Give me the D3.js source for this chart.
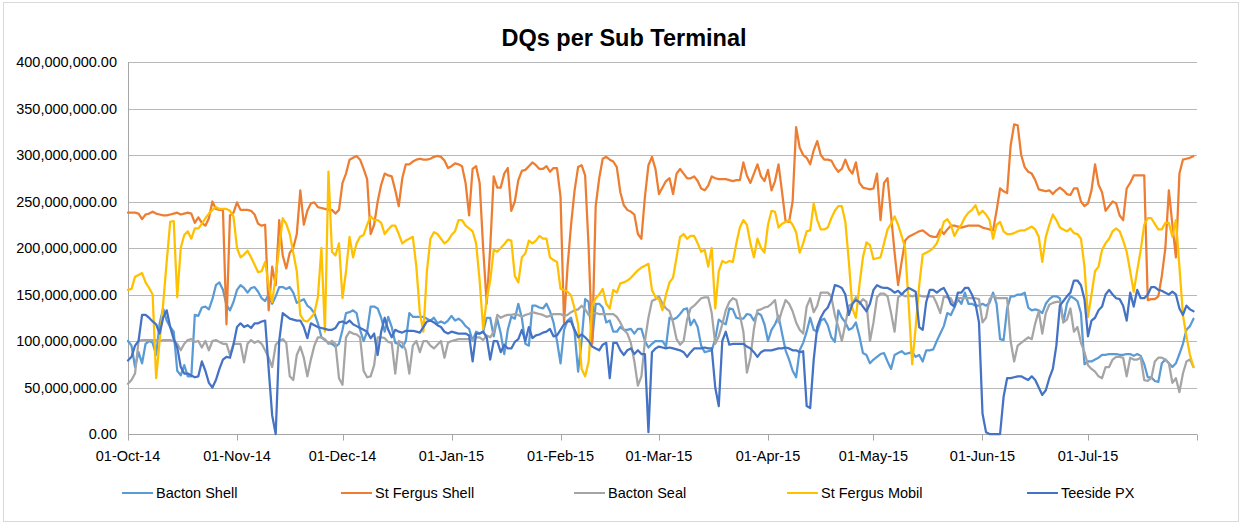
<!DOCTYPE html>
<html>
<head>
<meta charset="utf-8">
<script src="https://cdn.jsdelivr.net/npm/d3@7"></script>
<style>
  body { margin: 0; background: #fff; }
  svg { display: block; font-family: "Liberation Sans", Arial, sans-serif; }
</style>
</head>
<body>
<div id="chart"></div>
<script>
// daily values in millions, starting 01-Oct-14
const startDay = '2014-10-01';

const bactonShell = [
  100, 95, 72, 88, 76, 97, 100, 98, 85, 119,
  135, 122, 115, 110, 68, 63, 74, 62, 62, 128,
  127, 136, 137, 134, 145, 160, 163, 155, 139, 133,
  142, 155, 160, 157, 152, 157, 158, 153, 146, 143,
  150, 140, 148, 158, 158, 156, 158, 152, 141, 143,
  145, 138, 135, 130, 119, 104, 101, 98, 97, 94,
  97, 112, 130, 131, 133, 130, 112, 100, 110, 137,
  137, 135, 125, 110, 126, 115, 98, 97, 93, 100,
  130, 126, 126, 126, 126, 124, 122, 125, 119, 121,
  119, 122, 127, 122, 124, 121, 116, 113, 100, 110,
  108, 110, 125, 125, 105, 124, 108, 86, 112, 126,
  124, 140, 125, 97, 95, 138, 138, 136, 135, 140,
  132, 120, 100, 76, 112, 122, 125, 110, 67, 100,
  145, 142, 100, 140, 140, 136, 120, 122, 110, 110,
  115, 112, 112, 113, 108, 113, 113, 100, 93, 97,
  100, 100, 100, 94, 125, 123, 125, 129, 134, 135,
  117, 123, 115, 95, 88, 89, 90, 102, 123, 120,
  118, 135, 134, 125, 124, 124, 129, 128, 122, 130,
  128, 118, 100, 112, 118, 127, 108, 90, 80, 68,
  61, 90, 98, 110, 125, 112, 110, 122, 124, 117,
  104, 99, 133, 125, 120, 112, 114, 120, 105, 87,
  85, 76, 80, 83, 86, 87, 78, 70, 85, 87,
  89, 86, 87, 88, 83, 85, 78, 90, 90, 91,
  100, 108, 116, 130, 128, 136, 145, 140, 152, 140,
  140, 138, 138, 140, 138, 141, 152, 140, 102, 101,
  135, 148, 148, 150, 150, 152, 136, 133, 134, 133,
  130, 140, 145, 148, 148, 146, 120, 140, 148, 146,
  143, 130, 75, 78, 78, 80, 82, 85, 85, 86,
  86, 86, 85, 85, 86, 86, 84, 86, 84, 75,
  61, 61, 57, 56, 76, 80, 76, 72, 76, 86,
  97, 112, 116, 124
];

const stFergusShell = [
  238, 238, 238, 237, 231, 236, 237, 239, 237, 236,
  235, 235, 236, 237, 238, 236, 237, 238, 237, 227,
  233, 227, 224, 232, 250, 242, 241, 241, 118, 235,
  238, 249, 241, 241, 241, 240, 236, 226, 224, 225,
  133, 180, 160, 230, 192, 178, 195, 200, 215, 262,
  225, 240, 248, 249, 244, 243, 242, 241, 241, 237,
  241, 270, 280, 295, 297, 299, 295, 285, 274, 215,
  225, 250, 268, 280, 278, 277, 262, 245, 275, 290,
  290, 293, 295, 296, 295, 295, 296, 298, 299, 298,
  294, 286, 288, 291, 290, 288, 270, 235, 285, 288,
  270, 200, 140, 200, 277, 265, 265, 280, 286, 240,
  250, 273, 283, 284, 288, 292, 289, 285, 285, 288,
  282, 286, 286, 255, 120, 180, 225, 262, 287, 289,
  278, 200, 97, 245, 275, 296, 298, 295, 293, 287,
  260, 246, 241, 239, 236, 215, 210, 255, 289, 298,
  285, 258, 265, 272, 275, 258, 280, 285, 280, 275,
  275, 277, 272, 264, 262, 267, 277, 275, 274, 274,
  274, 273, 272, 273, 273, 292, 278, 270, 280, 290,
  277, 272, 284, 262, 272, 290, 260, 229, 228, 250,
  330, 308, 300, 297, 290, 305, 315, 300, 295, 295,
  294, 287, 282, 285, 295, 285, 280, 292, 270, 265,
  264, 263, 264, 280, 230, 270, 275, 235, 195, 160,
  185, 208, 212, 214, 216, 218, 219, 216, 213, 212,
  212, 220, 215, 220, 224, 224, 223, 222, 223, 224,
  224, 224, 224, 222, 221, 220, 219, 240, 264, 261,
  259, 310, 333, 332, 300, 287, 282, 280, 273, 263,
  262, 261, 262, 258, 262, 265, 262, 258, 257, 264,
  264, 250, 245, 248, 262, 290, 268, 260, 240, 245,
  250, 248, 235, 230, 264, 270, 278, 278, 278, 278,
  144, 145, 145, 148, 170, 200, 262, 225, 190, 280,
  295, 296, 297, 299
];

const bactonSeal = [
  54, 58, 65, 100, 101, 101, 101, 101, 101, 100,
  101, 101, 101, 100, 97, 90, 97, 101, 102, 99,
  100, 93, 100, 90, 100, 101, 99, 97, 97, 85,
  97, 97, 97, 77, 97, 101, 98, 100, 97, 90,
  82, 72, 96, 100, 102, 98, 62, 58, 85, 94,
  82, 62, 80, 95, 104, 104, 102, 97, 100, 97,
  60, 53, 104, 110, 108, 107, 104, 68, 61, 62,
  74, 104, 104, 103, 99, 98, 65, 100, 98, 90,
  65, 95, 100, 88, 100, 100, 95, 92, 96, 100,
  82, 98, 100, 101, 102, 102, 102, 102, 101, 104,
  104, 101, 106, 104, 110, 128, 125, 127, 128, 128,
  129, 128, 126, 128, 129, 131, 130, 129, 128, 126,
  127, 129, 129, 129, 127, 128, 131, 133, 134, 138,
  134, 128, 130, 130, 129, 129, 129, 129, 129, 126,
  120, 112, 108, 98, 78, 52, 62, 100, 125, 143,
  145, 148, 140, 135, 132, 120, 102, 96, 100, 123,
  135, 138, 142, 146, 147, 147, 130, 97, 105, 118,
  133, 142, 146, 144, 128, 110, 66, 82, 113, 133,
  134, 136, 137, 140, 144, 120, 133, 144, 140, 132,
  120, 112, 108, 137, 146, 131, 138, 152, 152, 152,
  148, 128, 115, 100, 118, 138, 140, 147, 140, 145,
  142, 100, 120, 147, 151, 151, 148, 130, 110, 147,
  150, 148, 149, 148, 149, 149, 148, 148, 148, 148,
  140, 130, 148, 147, 146, 138, 146, 146, 146, 146,
  146, 146, 145, 120, 125, 145, 149, 146, 146, 146,
  146, 100, 78, 95, 98, 101, 104, 102, 119, 132,
  108, 130, 139, 141, 142, 142, 120, 123, 135, 110,
  115, 98, 88, 74, 70, 67, 62, 60, 72, 72,
  80, 83, 83, 82, 62, 82, 80, 80, 82, 58,
  57, 60, 78, 82, 82, 80, 76, 55, 60, 45,
  65, 78, 80, 72
];

const stFergusMobil = [
  155, 156, 169, 171, 173, 163, 157, 150, 60, 100,
  140, 185, 228, 229, 147, 200, 214, 218, 210, 221,
  221, 226, 232, 237, 241, 244, 242, 242, 242, 240,
  234, 200, 190, 193, 197, 190, 182, 174, 175, 185,
  160, 142, 170, 200, 232, 226, 215, 195, 175, 128,
  122, 121, 125, 130, 147, 200, 110, 282, 196, 192,
  205, 146, 175, 212, 190, 205, 212, 214, 225, 234,
  230, 230, 227, 215, 220, 224, 224, 215, 205, 208,
  210, 212, 180, 130, 110, 175, 210, 217, 215, 210,
  205, 208, 214, 218, 230, 230, 224, 221, 218, 205,
  165, 113, 145, 165, 198, 196, 200, 204, 209, 208,
  170, 163, 190, 194, 208, 205, 208, 213, 210, 210,
  190, 187, 185, 156, 155, 153, 149, 135, 118, 70,
  62, 78, 138, 146, 150, 156, 140, 135, 155, 152,
  162, 163, 165, 168, 172, 176, 179, 181, 183, 155,
  147, 145, 133, 150, 163, 168, 190, 212, 215, 210,
  213, 213, 205, 196, 198, 180, 200, 135, 175, 186,
  184, 186, 185, 205, 222, 230, 225, 205, 190, 210,
  200, 195, 225, 240, 239, 222, 226, 228, 230, 225,
  217, 195, 205, 218, 219, 248, 230, 220, 220, 222,
  232, 240, 245, 245, 228, 185, 135, 125, 160, 190,
  206, 203, 188, 189, 190, 205, 220, 226, 234, 225,
  213, 200, 140, 75, 115, 160, 193, 195, 197, 200,
  205, 215, 228, 231, 225, 213, 220, 225, 233, 238,
  241, 246, 236, 240, 236, 230, 210, 225, 228, 218,
  215, 215, 216, 218, 219, 219, 221, 223, 220, 212,
  185, 212, 225, 236, 230, 222, 220, 218, 221, 216,
  215, 210, 180, 126, 150, 175, 180, 198, 205, 210,
  218, 221, 218, 208, 196, 175, 153, 176, 198, 225,
  232, 232, 226, 220, 220, 227, 227, 212, 230, 180,
  128, 105, 85, 72
];

const teesidePX = [
  79, 83, 95, 100, 128, 128, 125, 121, 118, 108,
  125, 133, 115, 102, 93, 72, 65, 65, 63, 61,
  62, 78, 68, 55, 50, 58, 70, 80, 83, 82,
  96, 115, 119, 115, 117, 114, 119, 119, 121, 122,
  70, 20, 0, 100, 130, 127, 124, 123, 122, 122,
  115, 103, 119, 117, 115, 114, 113, 112, 112, 114,
  120, 121, 119, 122, 118, 116, 114, 112, 110, 103,
  108, 85, 110, 125, 112, 104, 112, 110, 109, 111,
  111, 111, 110, 109, 115, 121, 122, 120, 117, 115,
  110, 108, 110, 109, 108, 108, 108, 106, 78, 108,
  108, 110, 104, 80, 100, 100, 88, 96, 92, 92,
  99, 102, 112, 100, 115, 103, 106, 107, 109, 110,
  113, 105, 106, 112, 118, 121, 121, 112, 104, 107,
  104, 100, 94, 92, 90, 96, 98, 60, 98, 98,
  90, 85, 90, 92, 86, 90, 86, 86, 2, 88,
  92, 94, 93, 92, 93, 92, 91, 90, 88, 83,
  88, 92, 92, 92, 93, 92, 92, 50, 30, 100,
  110, 96, 97, 97, 97, 97, 94, 92, 88, 83,
  88, 90, 90, 90, 91, 92, 92, 93, 92, 90,
  90, 88, 89, 30, 28, 80, 115, 125, 132, 136,
  145, 160, 159, 157, 150, 128, 140, 144, 142, 137,
  132, 140, 155, 160, 158, 157, 157, 155, 152, 154,
  150, 154, 157, 155, 153, 115, 112, 142, 155, 155,
  152, 155, 157, 150, 140, 137, 152, 152, 157, 157,
  150, 140, 120, 22, 2, 0, 0, 0, 0, 40,
  60, 60, 61, 62, 62, 60, 58, 62, 58, 50,
  42, 47, 60, 70, 95, 138, 143, 148, 152, 165,
  165, 160, 145, 105, 122, 125, 133, 137, 150, 155,
  150, 146, 145, 138, 122, 152, 137, 155, 146, 146,
  150, 158, 158, 155, 154, 152, 150, 153, 150, 135,
  128, 138, 134, 132
];

const seriesNames = ['Bacton Shell', 'St Fergus Shell', 'Bacton Seal', 'St Fergus Mobil', 'Teeside PX'];
const seriesColors = ['#5B9BD5', '#ED7D31', '#A5A5A5', '#FFC000', '#4472C4'];
const xTickDates = ['2014-10-01', '2014-11-01', '2014-12-01', '2015-01-01', '2015-02-01',
  '2015-03-01', '2015-04-01', '2015-05-01', '2015-06-01', '2015-07-01'];
const axisEnd = '2015-08-01';
const yTicks = [0, 50, 100, 150, 200, 250, 300, 350, 400];

const width = 1240;
const height = 524;
const margin = { top: 62, right: 43, bottom: 90, left: 128 };

const parse = d3.utcParse('%Y-%m-%d');
const start = parse(startDay);

const svg = d3.select('#chart')
  .append('svg')
  .attr('width', width)
  .attr('height', height);

svg.append('rect')
  .attr('x', 0).attr('y', 0)
  .attr('width', width).attr('height', height)
  .attr('fill', '#fff');

// chart area border
svg.append('rect')
  .attr('x', 3.5).attr('y', 2.5)
  .attr('width', width - 5).attr('height', height - 5)
  .attr('fill', 'none')
  .attr('stroke', '#d9d9d9');

const x = d3.scaleUtc()
  .domain([start, parse(axisEnd)])
  .range([margin.left, width - margin.right]);

const y = d3.scaleLinear()
  .domain([0, 400])
  .range([height - margin.bottom, margin.top]);

// gridlines
svg.append('g')
  .selectAll('line')
  .data(yTicks.slice(1))
  .enter()
  .append('line')
  .attr('x1', margin.left)
  .attr('x2', width - margin.right)
  .attr('y1', d => Math.round(y(d)) + 0.5)
  .attr('y2', d => Math.round(y(d)) + 0.5)
  .attr('stroke', '#b8b8b8')
  .attr('stroke-width', 1);

// y axis labels
const fmtY = d3.format(',.2f');
svg.append('g')
  .selectAll('text')
  .data(yTicks)
  .enter()
  .append('text')
  .attr('x', margin.left - 11)
  .attr('y', d => y(d) + 5)
  .attr('text-anchor', 'end')
  .style('font-size', '14.5px')
  .style('fill', '#000')
  .text(d => fmtY(d * 1e6));

// y axis line
svg.append('line')
  .attr('x1', margin.left + 0.5).attr('x2', margin.left + 0.5)
  .attr('y1', margin.top).attr('y2', height - margin.bottom)
  .attr('stroke', '#a6a6a6');

// x axis
const xAxisY = Math.round(y(0)) + 0.5;
svg.append('line')
  .attr('x1', margin.left).attr('x2', width - margin.right)
  .attr('y1', xAxisY).attr('y2', xAxisY)
  .attr('stroke', '#a6a6a6');

const tickDates = xTickDates.map(parse).concat([parse(axisEnd)]);
svg.append('g')
  .selectAll('line')
  .data(tickDates)
  .enter()
  .append('line')
  .attr('x1', d => Math.round(x(d)) + 0.5)
  .attr('x2', d => Math.round(x(d)) + 0.5)
  .attr('y1', xAxisY)
  .attr('y2', xAxisY + 6)
  .attr('stroke', '#a6a6a6');

const fmtX = d3.utcFormat('%d-%b-%y');
svg.append('g')
  .selectAll('text')
  .data(xTickDates.map(parse))
  .enter()
  .append('text')
  .attr('x', d => x(d))
  .attr('y', xAxisY + 26)
  .attr('text-anchor', 'middle')
  .style('font-size', '14.5px')
  .style('fill', '#000')
  .text(d => fmtX(d));

// lines
const allSeries = [bactonShell, stFergusShell, bactonSeal, stFergusMobil, teesidePX];
const line = d3.line()
  .x((d, i) => x(d3.utcDay.offset(start, i)))
  .y(d => y(d));

allSeries.forEach((vals, k) => {
  svg.append('path')
    .datum(vals)
    .attr('d', line)
    .attr('fill', 'none')
    .attr('stroke', seriesColors[k])
    .attr('stroke-width', 2.25)
    .attr('stroke-linejoin', 'round')
    .attr('stroke-linecap', 'round');
});

// title
svg.append('text')
  .attr('x', 624)
  .attr('y', 46)
  .attr('text-anchor', 'middle')
  .style('font-size', '23.5px')
  .style('font-weight', 'bold')
  .style('fill', '#000')
  .text('DQs per Sub Terminal');

// legend
const legendX = [122, 341, 574, 787, 1027];
const legendY = 493;
const legend = svg.append('g');
seriesNames.forEach((name, k) => {
  legend.append('line')
    .attr('x1', legendX[k]).attr('x2', legendX[k] + 31)
    .attr('y1', legendY).attr('y2', legendY)
    .attr('stroke', seriesColors[k])
    .attr('stroke-width', 2);
  legend.append('text')
    .attr('x', legendX[k] + 34)
    .attr('y', legendY + 5)
    .style('font-size', '14.5px')
    .style('fill', '#000')
    .text(name);
});
</script>
</body>
</html>
